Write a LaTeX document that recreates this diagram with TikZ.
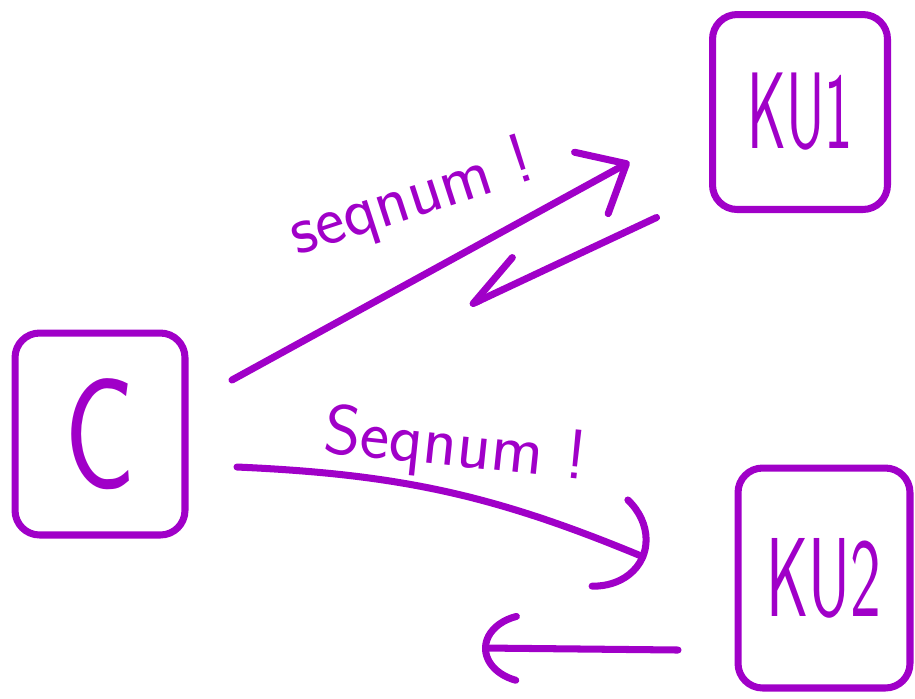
\documentclass[tikz,border=0pt]{standalone}
\usepackage{graphicx}
\usetikzlibrary{arrows.meta,calc}
\definecolor{feutre}{RGB}{160,0,200}
\tikzstyle{boite}=[draw=feutre,line width=4pt,rounded corners=14pt,inner sep=0pt,outer sep=0pt,text=feutre]
\tikzstyle{trait}=[draw=feutre,line width=4pt,line cap=round,line join=round]
\tikzstyle{aller}=[trait,-{Straight Barb[round,length=0.8cm,width=1.4cm]}]
\tikzstyle{retour}=[trait,-{Straight Barb[round,harpoon,swap,length=1.1cm,width=1cm]}]
\tikzstyle{allerbas}=[trait,-{Arc Barb[round,arc=130,length=1.3cm,width=2.2cm]}]
\tikzstyle{retourbas}=[trait,-{Arc Barb[round,arc=140,length=1cm,width=1.5cm]}]
\tikzstyle{etiquette}=[text=feutre,font=\sffamily\fontsize{40}{40}\selectfont]
\newcommand{\ecrit}[2]{\scalebox{#1}[1]{#2}}

\begin{document}
\begin{tikzpicture}[x=0.02cm,y=-0.02cm]
    \useasboundingbox (0,0) rectangle (915,698);
    % boites
    \foreach \pos/\name/\txt/\w/\h/\fs/\sx in {{(100,434)/C/C/3.4cm/4.04cm/90/0.75}, {(800,112)/KU1/KU1/3.5cm/3.9cm/62/0.55}, {(824,578)/KU2/KU2/3.44cm/4.4cm/64/0.58}}
        \node[boite,minimum width=\w,minimum height=\h,font=\sffamily\fontsize{\fs}{\fs}\selectfont] (\name) at \pos {\ecrit{\sx}{\txt}};
    % fleches
    \draw[aller] ($(C.east)+(47,-54)$) -- ($(KU1.west)+(-83,50)$);
    \draw[retour] ($(KU1.south west)+(-56,8)$) -- ($(C.north east)+(285,-28)$);
    \draw[allerbas] ($(C.east)+(52,33)$) to[bend left=10] ($(KU2.west)+(-92,-20)$);
    \draw[retourbas] ($(KU2.west)+(-60,72)$) -- ($(C.south east)+(297,113)$);
    % textes
    \node[etiquette,rotate=18] (seq1) at (412,200) {seqnum !};
    \node[etiquette,rotate=-6] (seq2) at (455,448) {Seqnum !};
\end{tikzpicture}
\end{document}
